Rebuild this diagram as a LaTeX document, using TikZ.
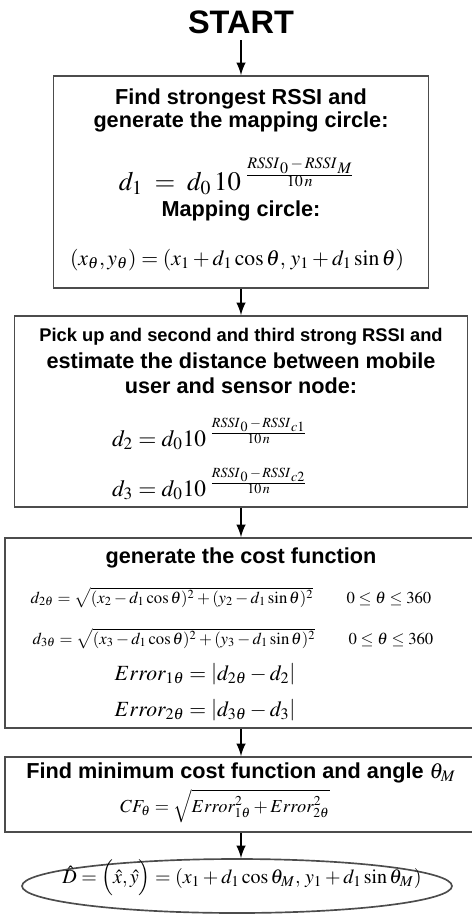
\documentclass[tikz,border=0pt]{standalone}
\usepackage{amsmath}
\usepackage{mathptmx}
\usepackage[no-math]{fontspec}
\setmainfont{Liberation Sans}
\usetikzlibrary{arrows, shapes.geometric}
\newcommand{\px}{0.6pt}
\newcommand{\rssiexp}[1]{10^{\;\frac{RSSI_{\,0}\,-\,RSSI_{\,#1}}{10\,n}}}
\tikzset{next/.style={->, >=latex, line width=1.6pt}}
\tikzset{stepbox/.style={rectangle, draw=black!70, line width=1pt, inner sep=0pt}}
\tikzset{label/.style={anchor=base, inner sep=0pt, font=\fontsize{13}{15}\bfseries}}
\tikzset{eq/.style={anchor=base, inner sep=0pt}}

\begin{document}
\begin{tikzpicture}[x=\px, y=-\px]
  \useasboundingbox (0,0) rectangle (471,914);

  % --- start ---
  \node[label, font=\fontsize{19.5}{22}\bfseries] (start) at (241,33) {START};

  % --- strongest RSSI and mapping circle ---
  \node[stepbox, minimum width=375*\px, minimum height=212*\px] (strong) at (241,182) {};
  \node[label] (strongA) at (241,104) {Find strongest RSSI and};
  \node[label] (strongB) at (241,127) {generate the mapping circle:};
  \node[eq, font=\fontsize{16}{18}\selectfont] (strongEq) at (237,190) {$d_1 \;=\; d_0\,\rssiexp{M}$};
  \node[label] (mapTitle) at (241,216) {Mapping circle:};
  \node[eq, font=\fontsize{13}{15}\selectfont] (mapEq) at (237,265)
    {$(x_\theta,y_\theta)=(x_1+d_1\cos\theta,\,y_1+d_1\sin\theta)$};

  % --- second and third RSSI ---
  \node[stepbox, minimum width=453*\px, minimum height=191*\px] (dist) at (241,411.5) {};
  \node[label, font=\fontsize{11}{13}\bfseries] (distA) at (241,341) {Pick up and second and third strong RSSI and};
  \node[label] (distB) at (241,368) {estimate the distance between mobile};
  \node[label] (distC) at (241,393) {user and sensor node:};
  \node[eq, font=\fontsize{14}{16}\selectfont] (distEqA) at (210,446) {$d_2 = d_0 \rssiexp{c1}$};
  \node[eq, font=\fontsize{14}{16}\selectfont] (distEqB) at (210,496) {$d_3 = d_0 \rssiexp{c2}$};

  % --- cost function ---
  \node[stepbox, minimum width=472*\px, minimum height=190*\px] (cost) at (241,633) {};
  \node[label] (costTitle) at (241,563) {generate the cost function};
  \node[eq] (costEqA) at (231,603)
    {$d_{2\theta}=\sqrt{(x_2-d_1\cos\theta)^2+(y_2-d_1\sin\theta)^2}\qquad 0\le\theta\le 360$};
  \node[eq] (costEqB) at (233,644)
    {$d_{3\theta}=\sqrt{(x_3-d_1\cos\theta)^2+(y_3-d_1\sin\theta)^2}\qquad 0\le\theta\le 360$};
  \node[eq, font=\fontsize{13}{15}\selectfont] (errA) at (205,680) {$Error_{1\theta}=\left|d_{2\theta}-d_2\right|$};
  \node[eq, font=\fontsize{13}{15}\selectfont] (errB) at (205,716) {$Error_{2\theta}=\left|d_{3\theta}-d_3\right|$};

  % --- minimum cost ---
  \node[stepbox, minimum width=472*\px, minimum height=75*\px] (mincost) at (241,794.5) {};
  \node[label] (minTitle) at (241,778) {Find minimum cost function and angle $\theta_M$};
  \node[eq, font=\fontsize{11}{13}\selectfont] (cfEq) at (225,812)
    {$CF_\theta=\sqrt{Error_{1\theta}^2+Error_{2\theta}^2}$};

  % --- estimated position ---
  \node[ellipse, draw=black!70, line width=1pt, inner sep=0pt,
        minimum width=430*\px, minimum height=54*\px] (final) at (237,886) {};
  \node[eq, font=\large] (finalEq) at (242,883)
    {$\hat{D}=\Bigl(\hat{x},\hat{y}\Bigr)=(x_1+d_1\cos\theta_M,\,y_1+d_1\sin\theta_M)$};

  \draw[next, shorten <=4pt] (start) -- (strong);
  \draw[next] (strong) -- (dist);
  \draw[next] (dist) -- (cost);
  \draw[next] (cost) -- (mincost);
  \draw[next] (mincost) -- (mincost |- final.north);
\end{tikzpicture}
\end{document}
